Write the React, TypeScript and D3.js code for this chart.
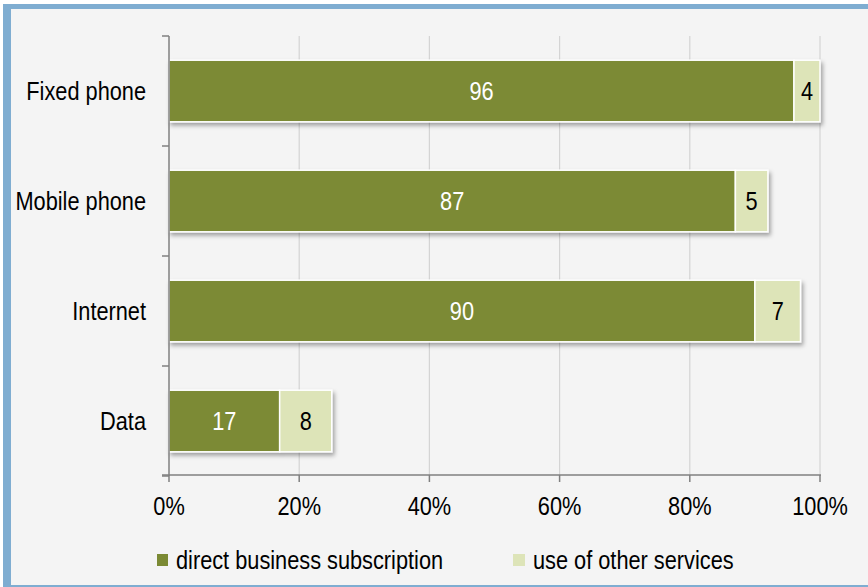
import React from "react";
import * as d3 from "d3";

const categories = ["Fixed phone", "Mobile phone", "Internet", "Data"];
const directValues = [96, 87, 90, 17];
const otherValues = [4, 5, 7, 8];
const seriesNames = ["direct business subscription", "use of other services"];
const xTicks = [0, 20, 40, 60, 80, 100];

const W = 868;
const H = 587;
const DARK = "#7b8a34";
const LIGHT = "#dde4b8";
const FONT = "'Liberation Sans', Arial, sans-serif";
const FS = 25;
const SX = 0.87;

function T({ x, y, anchor = "start", fill = "#000", children }: { x: number; y: number; anchor?: string; fill?: string; children: React.ReactNode }) {
  return (
    <g transform={`translate(${x},${y}) scale(${SX},1)`}>
      <text x={0} y={0} dy="0.36em" textAnchor={anchor as any} fill={fill} fontSize={FS} fontFamily={FONT}>
        {children}
      </text>
    </g>
  );
}

export default function App() {
  const x = d3.scaleLinear().domain([0, 100]).range([169, 820]);
  const y = d3.scaleBand().domain(categories).range([36, 476]).paddingInner(0.44).paddingOuter(0.22);
  const bw = y.bandwidth();
  const ticksY = categories.map((c) => (y(c) as number) - (y.step() * y.paddingInner()) / 2);
  ticksY.push(476);

  return (
    <div style={{ position: "absolute", left: 0, top: 0 }}>
      <svg width={W} height={H} style={{ display: "block" }}>
        <defs>
          <filter id="sh" x="-10%" y="-20%" width="130%" height="160%">
            <feDropShadow dx="2" dy="3" stdDeviation="2" floodColor="#000" floodOpacity="0.35" />
          </filter>
        </defs>
        <rect x={0} y={0} width={W} height={H} fill="#ffffff" />
        <rect x={11} y={9} width={W - 11} height={H - 9 - 2} fill="#f4f4f4" />
        <rect x={3} y={4} width={W - 3} height={5} fill="#7fadd1" />
        <rect x={3} y={4} width={8} height={H - 4} fill="#7fadd1" />
        <rect x={3} y={585} width={W - 3} height={2} fill="#7fadd1" />

        {/* gridlines */}
        {xTicks.slice(1).map((t) => (
          <line key={t} x1={x(t)} x2={x(t)} y1={36} y2={476} stroke="#d4d4d4" strokeWidth={1.2} />
        ))}

        {/* bars */}
        {categories.map((c, i) => {
          const y0 = y(c) as number;
          const x0 = x(0);
          const x1 = x(directValues[i]);
          const x2 = x(directValues[i] + otherValues[i]);
          return (
            <g key={c}>
              <g filter="url(#sh)">
                <rect x={x0} y={y0} width={x1 - x0} height={bw} fill={DARK} stroke="#ffffff" strokeWidth={1.5} />
                <rect x={x1} y={y0} width={x2 - x1} height={bw} fill={LIGHT} stroke="#ffffff" strokeWidth={1.5} />
              </g>
              <T x={(x0 + x1) / 2} y={y0 + bw / 2} anchor="middle" fill="#ffffff">{directValues[i]}</T>
              <T x={(x1 + x2) / 2} y={y0 + bw / 2} anchor="middle">{otherValues[i]}</T>
              <T x={146} y={y0 + bw / 2} anchor="end">{c}</T>
            </g>
          );
        })}

        {/* y axis */}
        <line x1={169} x2={169} y1={36} y2={476} stroke="#808080" strokeWidth={1.5} />
        {ticksY.map((t, i) => (
          <line key={i} x1={162} x2={169} y1={t} y2={t} stroke="#808080" strokeWidth={1.5} />
        ))}
        {/* x axis */}
        <line x1={162} x2={821} y1={475} y2={475} stroke="#808080" strokeWidth={1.5} />
        {xTicks.map((t) => (
          <g key={t}>
            <line x1={x(t)} x2={x(t)} y1={475} y2={482} stroke="#808080" strokeWidth={1.5} />
            <T x={x(t)} y={506} anchor="middle">{`${t}%`}</T>
          </g>
        ))}

        {/* legend */}
        <rect x={157} y={554} width={11} height={12} fill={DARK} />
        <T x={176} y={560}>{seriesNames[0]}</T>
        <rect x={513} y={554} width={12} height={12} fill={LIGHT} />
        <T x={533} y={560}>{seriesNames[1]}</T>
      </svg>
    </div>
  );
}
